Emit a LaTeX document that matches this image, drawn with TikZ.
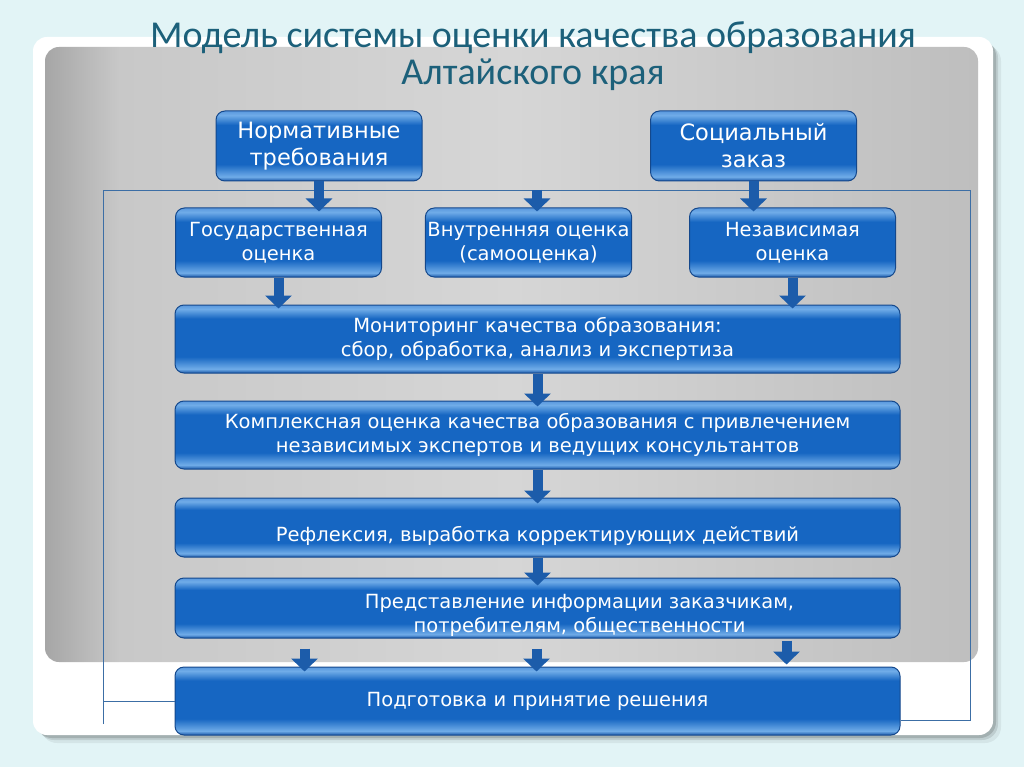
\documentclass[tikz,border=0pt]{standalone}
\usepackage{fontspec}
\setmainfont{DejaVu Sans}
\newfontfamily\titlefont{Carlito}
\usetikzlibrary{arrows.meta, positioning, calc}
\definecolor{colBg}{RGB}{226, 244, 246}
\definecolor{colTitle}{RGB}{28, 96, 122}
\definecolor{colFrame}{RGB}{60, 110, 165}
\definecolor{colPanelA}{RGB}{166, 166, 166}
\definecolor{colPanelB}{RGB}{200, 200, 200}
\definecolor{colPanelC}{RGB}{214, 214, 214}
\definecolor{colPanelD}{RGB}{190, 190, 190}
\definecolor{colBoxEdge}{RGB}{20, 72, 140}
\definecolor{colBoxLow}{RGB}{26, 88, 168}
\definecolor{colBoxLight}{RGB}{112, 172, 232}
\definecolor{colBoxMid}{RGB}{22, 102, 194}
\definecolor{colBoxTop}{RGB}{90, 152, 222}
\definecolor{colArrow}{RGB}{28, 92, 170}

\pgfdeclareverticalshading{boxshade}{100bp}{%
  color(0bp)=(colBoxLow); color(25bp)=(colBoxLow);
  color(28bp)=(colBoxLight); color(37bp)=(colBoxMid);
  color(65bp)=(colBoxMid); color(72bp)=(colBoxLight);
  color(75bp)=(colBoxTop); color(100bp)=(colBoxTop)}
\pgfdeclarehorizontalshading{panelshade}{100bp}{%
  color(0bp)=(colPanelA); color(25bp)=(colPanelA);
  color(29bp)=(colPanelB); color(50bp)=(colPanelC);
  color(75bp)=(colPanelD); color(100bp)=(colPanelD)}

\tikzset{
  blbox/.style={draw=colBoxEdge, line width=1pt, shading=boxshade,
    rounded corners=9pt, text=white, align=center, inner sep=2pt,
    font=\fontsize{19.5}{24}\selectfont},
  bigbox/.style={blbox, minimum width=725pt},
  topbox/.style={blbox, minimum width=206pt, minimum height=70pt,
    font=\fontsize{22.5}{27}\selectfont},
  midbox/.style={blbox, minimum width=206pt, minimum height=69pt},
  blarrow/.style={draw=colArrow, line width=10pt,
    -{Triangle[width=26pt, length=13pt]}},
  frameline/.style={draw=colFrame, line width=0.8pt}
}

\begin{document}
\begin{tikzpicture}[x=1pt, y=-1pt]
    \useasboundingbox (0,0) rectangle (1024,767);
    \fill[colBg] (0,0) rectangle (1024,767);

    % card and grey panel
    \foreach \s/\o in {8/0.06, 5/0.10, 3/0.14}
        \fill[black, opacity=\o, rounded corners=16pt] (33+\s,37+\s) rectangle (993+\s,735+\s);
    \fill[white, rounded corners=14pt] (33,37) rectangle (993,735);
    \shade[rounded corners=14pt, shading=panelshade] (45,47) rectangle (978,662);

    % title
    \node[font=\titlefont\fontsize{38}{37}\selectfont, text=colTitle, align=center]
        (title) at (533,56) {Модель системы оценки качества образования\\Алтайского края};

    % frame
    \coordinate (ftl) at (103,190);
    \coordinate (ftr) at (970,190);
    \coordinate (fbl) at (103,724);
    \coordinate (fbr) at (970,720);
    \coordinate (ftm) at (537,190);

    % boxes
    \node[topbox] (norm) at (319,146) {Нормативные\\требования};
    \node[topbox] (soc) at (753.5,146) {Социальный\\заказ};
    \node[midbox] (gos) at (278.5,242.5) {Государственная\\оценка};
    \node[midbox] (vnut) at (528.5,242.5) {Внутренняя оценка\\(самооценка)};
    \node[midbox] (nez) at (792.5,242.5) {Независимая\\оценка};
    \node[bigbox, minimum height=68pt] (mon) at (537.5,339)
        {Мониторинг качества образования:\\сбор, обработка, анализ и экспертиза};
    \node[bigbox, minimum height=68pt] (kompl) at (537.5,435)
        {Комплексная оценка качества образования с привлечением\\независимых экспертов и ведущих консультантов};
    \node[bigbox, minimum height=59pt] (refl) at (537.5,527.5)
        {\raisebox{-14pt}[0pt][0pt]{Рефлексия, выработка корректирующих действий}};
    \node[bigbox, minimum height=60pt] (pred) at (537.5,608) {};
    \node[text=white, align=center, font=\fontsize{19.5}{24}\selectfont] (predtxt)
        at ($(pred.center)+(42,7)$)
        {Представление информации заказчикам,\\потребителям, общественности};
    \node[bigbox, minimum height=68pt] (podg) at (537.5,701)
        {Подготовка и принятие решения};

    \draw[frameline] (podg.west) -- (podg.west -| ftl);
    \draw[frameline] (fbl) -- (ftl) -- (ftr) -- (fbr) -- (fbr -| podg.east);

    % arrows
    \draw[blarrow, shorten >=-4pt] (norm.south) -- (norm.south |- gos.north);
    \draw[blarrow, shorten >=-4pt] (soc.south) -- (soc.south |- nez.north);
    \draw[blarrow, shorten >=-4pt] (ftm) -- (ftm |- vnut.north);
    \draw[blarrow, shorten >=-4pt] (gos.south) -- (gos.south |- mon.north);
    \draw[blarrow, shorten >=-4pt] (nez.south) -- (nez.south |- mon.north);
    \draw[blarrow, shorten >=-6pt] (mon.south) -- (kompl.north);
    \draw[blarrow, shorten >=-6pt] (kompl.south) -- (refl.north);
    \draw[blarrow, shorten >=-8pt] (refl.south) -- (pred.north);
    \foreach \dx/\dy/\dz in {-233/10/5, -1/10/5, 249/2/-2}
        \draw[blarrow] ($(pred.south)+(\dx,\dy)$) -- ($(podg.north)+(\dx,\dz)$);
\end{tikzpicture}
\end{document}
